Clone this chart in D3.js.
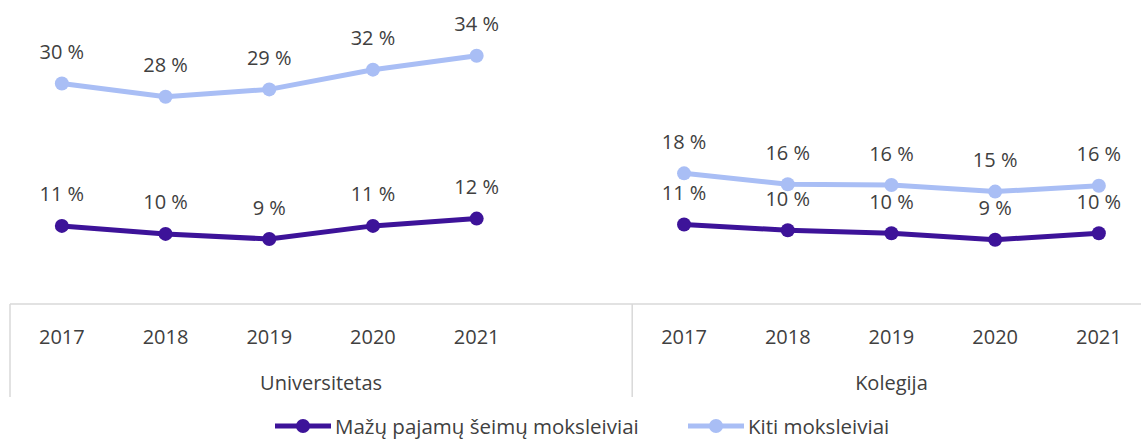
<!DOCTYPE html>
<html>
<head>
<meta charset="utf-8">
<script src="https://cdn.jsdelivr.net/npm/d3@7"></script>
<style>
  html, body { margin: 0; padding: 0; background: #fff; }
  svg { display: block; font-family: "Open Sans", sans-serif; }
</style>
</head>
<body>
<svg id="chart" width="1141" height="442"></svg>
<script>
const YEARS = ['2017', '2018', '2019', '2020', '2021'];
const GROUPS = ['Universitetas', 'Kolegija'];

// shares in % (labels show rounded values)
const univLow   = [10.7, 9.6, 8.9, 10.7, 11.7];
const univOther = [30.2, 28.4, 29.4, 32.1, 34.0];
const kolLow    = [10.9, 10.1, 9.7, 8.8, 9.7];
const kolOther  = [17.9, 16.4, 16.3, 15.4, 16.2];

const SERIES = [
  { name: 'Mažų pajamų šeimų moksleiviai', color: '#3d1399', data: [univLow, kolLow] },
  { name: 'Kiti moksleiviai',              color: '#a9bef5', data: [univOther, kolOther] }
];

const W = 1141, H = 442;
const AXIS_Y = 304;
const TEXT = '#404040';
const GRID = '#d9d9d9';
const FS = 20;

// 11 slots: 5 years + an empty slot for Universitetas, 5 years for Kolegija
const slots = [
  ...YEARS.map(y => 'U' + y), 'U-gap',
  ...YEARS.map(y => 'K' + y)
];
const step = 103.7;
const x = d3.scaleBand().domain(slots).range([10, 10 + step * slots.length]).padding(0);
const y = d3.scaleLinear().domain([0, 40]).range([AXIS_Y, 12]);

const svg = d3.select('#chart');

// category axis
const axis = svg.append('g');
axis.append('line')
  .attr('x1', 10).attr('x2', W).attr('y1', AXIS_Y).attr('y2', AXIS_Y)
  .attr('stroke', GRID).attr('stroke-width', 1.5);

const groupSpans = [
  { label: GROUPS[0], x0: x('U2017'), x1: x('U-gap') + x.bandwidth() },
  { label: GROUPS[1], x0: x('K2017'), x1: x('K2021') + x.bandwidth() }
];
groupSpans.forEach(g => {
  axis.append('line')
    .attr('x1', g.x0).attr('x2', g.x0).attr('y1', AXIS_Y).attr('y2', 397)
    .attr('stroke', GRID).attr('stroke-width', 1.5);
  axis.append('text')
    .attr('x', (g.x0 + g.x1) / 2).attr('y', 382)
    .attr('text-anchor', 'middle').attr('dominant-baseline', 'central')
    .attr('font-size', FS).attr('fill', TEXT)
    .text(g.label);
});

axis.selectAll('text.year')
  .data(slots.filter(s => s !== 'U-gap'))
  .join('text')
  .attr('class', 'year')
  .attr('x', d => x(d) + x.bandwidth() / 2)
  .attr('y', 336)
  .attr('text-anchor', 'middle').attr('dominant-baseline', 'central')
  .attr('font-size', FS).attr('fill', TEXT)
  .text(d => d.slice(1));

// lines, markers, labels
const line = d3.line().x(d => d.x).y(d => d.y);

SERIES.forEach(s => {
  const g = svg.append('g');
  ['U', 'K'].forEach((prefix, gi) => {
    const pts = s.data[gi].map((v, i) => ({
      v,
      x: x(prefix + YEARS[i]) + x.bandwidth() / 2,
      y: y(v)
    }));
    g.append('path')
      .attr('d', line(pts))
      .attr('fill', 'none')
      .attr('stroke', s.color)
      .attr('stroke-width', 5)
      .attr('stroke-linejoin', 'round');
    g.selectAll(null).data(pts).join('circle')
      .attr('cx', d => d.x).attr('cy', d => d.y).attr('r', 7)
      .attr('fill', s.color);
    g.selectAll(null).data(pts).join('text')
      .attr('x', d => d.x).attr('y', d => d.y - 32)
      .attr('text-anchor', 'middle').attr('dominant-baseline', 'central')
      .attr('font-size', FS).attr('fill', TEXT)
      .text(d => Math.round(d.v) + ' %');
  });
});

// legend
const legendItems = [
  { s: SERIES[0], x: 275 },
  { s: SERIES[1], x: 688 }
];
const legend = svg.append('g');
legendItems.forEach(it => {
  const ly = 426;
  legend.append('line')
    .attr('x1', it.x).attr('x2', it.x + 56).attr('y1', ly).attr('y2', ly)
    .attr('stroke', it.s.color).attr('stroke-width', 5);
  legend.append('circle')
    .attr('cx', it.x + 28).attr('cy', ly).attr('r', 7)
    .attr('fill', it.s.color);
  legend.append('text')
    .attr('x', it.x + 60).attr('y', ly)
    .attr('dominant-baseline', 'central')
    .attr('font-size', 20.5).attr('fill', TEXT)
    .text(it.s.name);
});
</script>
</body>
</html>
